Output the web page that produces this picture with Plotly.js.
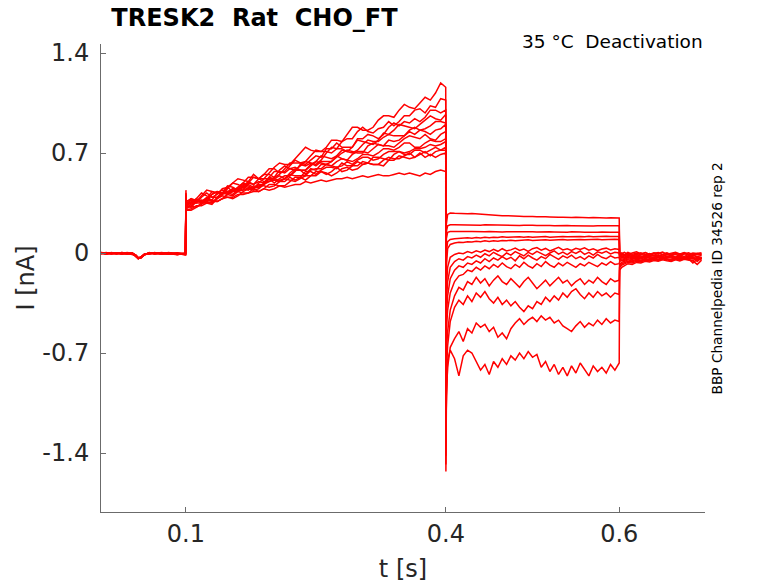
<!DOCTYPE html>
<html>
<head>
<meta charset="utf-8">
<script src="https://cdn.plot.ly/plotly-3.0.1.min.js"></script>
<style>html,body{margin:0;padding:0;background:#fff;}#chart{width:778px;height:583px;}</style>
</head>
<body>
<div id="chart"></div>
<script>
// ---- time grids (s) ----
const tPre = [0.002,0.008,0.014,0.02,0.026,0.032,0.038,0.042,0.045,0.048,0.052,0.058,0.064,0.072,0.08,0.09,0.0995];
const tAct = [0.1,0.1005,0.106,0.112,0.118,0.124,0.13,0.136,0.142,0.148,0.154,0.16,0.166,0.172,0.178,0.184,0.19,0.196,0.202,0.208,0.214,0.22,0.226,0.232,0.238,0.244,0.25,0.256,0.262,0.268,0.274,0.28,0.286,0.292,0.298,0.304,0.31,0.316,0.322,0.328,0.334,0.34,0.346,0.352,0.358,0.364,0.37,0.376,0.382,0.388,0.394,0.3998];
const tDeact = [0.4,0.4005,0.402,0.405,0.41,0.415,0.42,0.425,0.43,0.435,0.44,0.445,0.45,0.455,0.46,0.465,0.47,0.475,0.48,0.485,0.49,0.495,0.5,0.505,0.51,0.515,0.52,0.525,0.53,0.535,0.54,0.545,0.55,0.555,0.56,0.565,0.57,0.575,0.58,0.585,0.59,0.595,0.6];
const tPost = [0.6005,0.603,0.606,0.61,0.615,0.62,0.625,0.63,0.635,0.64,0.645,0.65,0.655,0.66,0.665,0.67,0.675,0.68,0.685,0.69,0.695];

// ---- currents (nA), one row per sweep ----
const preCurrents = [
 [0.0,-0.005,0.003,-0.004,0.002,-0.006,0.0,-0.018,-0.035,-0.03,-0.012,0.002,-0.004,0.003,-0.006,0.001,-0.008],
 [-0.005,0.002,-0.006,0.0,-0.008,0.001,-0.004,-0.022,-0.04,-0.028,-0.008,-0.006,0.002,-0.005,0.0,-0.01,-0.004],
 [0.003,-0.002,0.0,-0.007,0.004,-0.003,-0.008,-0.015,-0.032,-0.036,-0.014,0.0,-0.007,0.001,-0.004,-0.012,0.0],
 [-0.002,-0.008,0.002,-0.003,-0.006,0.003,-0.002,-0.02,-0.038,-0.03,-0.01,-0.004,0.003,-0.008,0.002,-0.005,-0.01],
 [0.001,-0.004,-0.007,0.002,-0.002,-0.008,0.002,-0.014,-0.034,-0.033,-0.012,0.003,-0.005,-0.002,-0.009,0.0,-0.006],
 [-0.004,0.001,-0.002,-0.006,0.003,-0.001,-0.006,-0.019,-0.04,-0.032,-0.009,-0.007,0.001,-0.003,-0.008,-0.002,-0.012],
 [0.002,-0.006,0.001,-0.002,-0.005,0.002,-0.003,-0.016,-0.033,-0.03,-0.013,0.001,-0.002,-0.006,0.003,-0.007,-0.002],
 [-0.003,0.003,-0.004,0.001,-0.007,-0.002,0.001,-0.021,-0.037,-0.029,-0.008,-0.005,-0.003,0.002,-0.005,-0.009,-0.005],
 [0.0,-0.003,-0.001,-0.005,0.001,-0.004,-0.005,-0.015,-0.035,-0.034,-0.011,-0.002,0.0,-0.004,-0.001,-0.006,-0.011],
 [-0.006,-0.001,0.002,-0.004,-0.003,0.0,-0.007,-0.02,-0.039,-0.03,-0.012,0.001,-0.006,0.0,-0.007,-0.003,-0.001],
 [0.002,-0.007,-0.003,0.0,-0.004,-0.005,0.0,-0.014,-0.034,-0.033,-0.009,-0.003,-0.001,-0.007,0.001,-0.008,-0.007],
 [-0.001,0.0,-0.005,-0.002,0.002,-0.007,-0.004,-0.018,-0.036,-0.031,-0.011,0.002,-0.005,-0.001,-0.003,-0.004,-0.013],
 [0.004,-0.002,0.001,-0.006,-0.001,0.001,-0.001,-0.015,-0.038,-0.028,-0.01,-0.001,0.001,-0.005,-0.002,-0.011,-0.003]
];
const actCurrents = [
 [0.44,0.36, 0.38,0.36,0.40,0.44,0.43,0.42,0.41,0.46, 0.49,0.52,0.51,0.50,0.55,0.52,0.52,0.56, 0.60,0.63,0.62,0.62,0.66,0.70,0.74,0.72, 0.71,0.71,0.74,0.79,0.79,0.78,0.83,0.88, 0.88,0.86,0.86,0.88,0.93,0.96,0.96,0.95,1.0, 1.04,1.02,1.01,1.05,1.09,1.07,1.12,1.19, 1.16],
 [0.42,0.35, 0.35,0.38,0.42,0.40,0.39,0.41,0.45,0.46, 0.43,0.46,0.49,0.53,0.53,0.52,0.55,0.59, 0.59,0.56,0.57,0.61,0.65,0.63,0.64,0.68, 0.72,0.71,0.71,0.70,0.73,0.78,0.80,0.80, 0.85,0.88,0.85,0.84,0.87,0.88,0.92,0.89,0.92, 0.96,0.96,1.0,1.01,0.98,1.03,1.02,1.08, 1.07],
 [0.41,0.34, 0.37,0.36,0.37,0.36,0.41,0.43,0.42,0.47, 0.46,0.44,0.47,0.50,0.48,0.52,0.55,0.55, 0.53,0.55,0.59,0.63,0.63,0.63,0.62,0.65, 0.68,0.67,0.73,0.73,0.77,0.74,0.74,0.74, 0.80,0.80,0.83,0.82,0.80,0.83,0.88,0.91,0.89, 0.92,0.91,0.94,0.92,0.95,1.0,1.0,0.98, 1.0],
 [0.40,0.35, 0.38,0.37,0.35,0.38,0.43,0.42,0.41,0.45, 0.49,0.48,0.46,0.49,0.53,0.52,0.50,0.50, 0.53,0.58,0.61,0.59,0.58,0.61,0.64,0.63, 0.62,0.65,0.70,0.74,0.73,0.73,0.71,0.74, 0.79,0.78,0.77,0.76,0.79,0.84,0.83,0.86,0.90, 0.89,0.88,0.87,0.90,0.93,0.96,0.94,0.93, 0.97],
 [0.40,0.33, 0.35,0.38,0.36,0.39,0.37,0.42,0.44,0.43, 0.45,0.44,0.44,0.49,0.48,0.50,0.49,0.53, 0.57,0.57,0.56,0.59,0.60,0.58,0.58,0.62, 0.64,0.68,0.67,0.66,0.68,0.72,0.71,0.70, 0.72,0.76,0.79,0.78,0.78,0.81,0.83,0.82,0.82, 0.82,0.86,0.88,0.86,0.87,0.89,0.92,0.92, 0.91],
 [0.39,0.34, 0.35,0.35,0.39,0.42,0.39,0.39,0.42,0.42, 0.45,0.45,0.48,0.48,0.46,0.46,0.49,0.53, 0.52,0.54,0.52,0.54,0.57,0.62,0.61,0.63, 0.61,0.64,0.64,0.64,0.67,0.70,0.72,0.71, 0.70,0.70,0.75,0.77,0.76,0.75,0.79,0.78,0.79, 0.82,0.85,0.83,0.86,0.85,0.83,0.86,0.87, 0.90],
 [0.38,0.33, 0.36,0.35,0.35,0.38,0.41,0.43,0.42,0.41, 0.40,0.43,0.47,0.46,0.45,0.49,0.52,0.52, 0.51,0.50,0.52,0.56,0.59,0.58,0.58,0.61, 0.64,0.63,0.62,0.64,0.68,0.66,0.65,0.69, 0.71,0.71,0.70,0.73,0.76,0.75,0.75,0.74,0.77, 0.80,0.82,0.81,0.80,0.83,0.80,0.79,0.83, 0.85],
 [0.38,0.32, 0.34,0.37,0.36,0.36,0.35,0.38,0.41,0.43, 0.43,0.46,0.49,0.47,0.45,0.48,0.48,0.52, 0.49,0.52,0.54,0.54,0.58,0.58,0.55,0.59, 0.58,0.62,0.62,0.61,0.64,0.66,0.65,0.64, 0.66,0.69,0.69,0.68,0.70,0.73,0.73,0.72,0.74, 0.77,0.77,0.74,0.74,0.77,0.79,0.78,0.78, 0.80],
 [0.39,0.33, 0.32,0.36,0.36,0.38,0.37,0.36,0.38,0.41, 0.44,0.43,0.45,0.44,0.47,0.46,0.48,0.52, 0.52,0.51,0.52,0.55,0.54,0.54,0.54,0.58, 0.59,0.59,0.62,0.61,0.60,0.61,0.64,0.62, 0.65,0.67,0.67,0.65,0.66,0.69,0.71,0.71,0.71, 0.70,0.71,0.73,0.73,0.74,0.76,0.75,0.76, 0.78],
 [0.37,0.32, 0.33,0.36,0.36,0.35,0.35,0.39,0.42,0.42, 0.41,0.44,0.46,0.45,0.44,0.45,0.48,0.50, 0.51,0.50,0.50,0.53,0.51,0.53,0.57,0.57, 0.55,0.58,0.60,0.60,0.59,0.63,0.61,0.61, 0.64,0.62,0.63,0.67,0.67,0.66,0.65,0.69,0.71, 0.69,0.69,0.72,0.72,0.70,0.72,0.74,0.72, 0.74],
 [0.36,0.31, 0.33,0.32,0.34,0.37,0.37,0.36,0.38,0.41, 0.43,0.43,0.42,0.42,0.45,0.47,0.47,0.46, 0.47,0.50,0.52,0.51,0.50,0.52,0.54,0.54, 0.57,0.57,0.55,0.57,0.60,0.57,0.58,0.61, 0.61,0.64,0.63,0.62,0.62,0.65,0.67,0.66,0.66, 0.68,0.70,0.67,0.69,0.71,0.68,0.71,0.72, 0.72],
 [0.36,0.30, 0.30,0.32,0.35,0.35,0.34,0.38,0.40,0.39, 0.38,0.40,0.43,0.45,0.45,0.43,0.45,0.48, 0.48,0.47,0.47,0.50,0.53,0.53,0.51,0.54, 0.54,0.57,0.56,0.54,0.56,0.59,0.60,0.58, 0.59,0.62,0.63,0.62,0.62,0.61,0.65,0.65,0.68, 0.67,0.66,0.67,0.70,0.67,0.69,0.67,0.69, 0.70],
 [0.35,0.30, 0.31,0.33,0.33,0.35,0.36,0.36,0.38,0.39, 0.39,0.41,0.41,0.42,0.43,0.43,0.45,0.44, 0.45,0.47,0.46,0.47,0.48,0.48,0.50,0.49, 0.50,0.51,0.50,0.51,0.52,0.52,0.53,0.52, 0.53,0.54,0.53,0.54,0.55,0.54,0.54,0.55,0.56, 0.55,0.56,0.55,0.54,0.56,0.55,0.57,0.58, 0.57]
];
const deactCurrents = [
 [-0.6,0.2,0.27,0.28,0.278,0.276,0.279,0.275,0.277,0.274,0.276,0.272,0.265,0.263,0.262,0.26,0.261,0.258,0.259,0.257,0.256,0.258,0.255,0.254,0.256,0.253,0.252,0.254,0.251,0.25,0.252,0.249,0.25,0.248,0.249,0.247,0.248,0.246,0.247,0.245,0.246,0.244,0.245],
 [-0.7,0.15,0.19,0.198,0.198,0.197,0.199,0.196,0.198,0.197,0.195,0.197,0.196,0.194,0.196,0.195,0.193,0.195,0.194,0.193,0.195,0.192,0.194,0.193,0.191,0.193,0.192,0.191,0.193,0.19,0.192,0.191,0.19,0.192,0.19,0.191,0.189,0.191,0.19,0.189,0.191,0.19,0.19],
 [-0.8,0.1,0.145,0.15,0.15,0.152,0.149,0.151,0.15,0.148,0.15,0.149,0.151,0.148,0.15,0.147,0.149,0.148,0.15,0.147,0.149,0.146,0.148,0.147,0.149,0.146,0.148,0.147,0.145,0.147,0.146,0.148,0.145,0.147,0.146,0.144,0.146,0.145,0.147,0.144,0.146,0.145,0.145],
 [-0.9,0.0,0.08,0.095,0.1,0.103,0.101,0.106,0.104,0.108,0.105,0.11,0.107,0.111,0.109,0.113,0.11,0.112,0.109,0.113,0.111,0.114,0.11,0.113,0.112,0.115,0.111,0.114,0.112,0.116,0.113,0.115,0.112,0.116,0.114,0.117,0.113,0.116,0.114,0.117,0.115,0.116,0.115],
 [-1.0,-0.1,0.03,0.06,0.07,0.075,0.073,0.079,0.077,0.082,0.079,0.085,0.081,0.086,0.083,0.088,0.085,0.09,0.086,0.089,0.087,0.092,0.088,0.091,0.089,0.093,0.09,0.092,0.089,0.094,0.091,0.093,0.09,0.095,0.092,0.094,0.091,0.096,0.093,0.095,0.092,0.096,0.095],
 [-1.1,-0.25,-0.1,-0.03,-0.01,0.0,-0.005,0.01,0.0,0.015,0.005,0.02,0.01,0.025,0.012,0.03,0.015,0.022,0.035,0.018,0.028,0.012,0.03,0.038,0.02,0.032,0.015,0.027,0.04,0.022,0.03,0.018,0.033,0.025,0.036,0.02,0.03,0.016,0.028,0.034,0.022,0.03,0.025],
 [-1.2,-0.35,-0.2,-0.1,-0.06,-0.04,-0.05,-0.025,-0.035,-0.015,-0.03,-0.005,-0.02,0.005,-0.012,-0.025,0.0,-0.015,0.01,-0.005,-0.02,0.005,-0.01,0.012,-0.004,-0.018,0.0,0.015,-0.008,0.006,-0.012,0.01,-0.003,0.014,-0.01,0.004,-0.015,0.008,-0.002,0.012,-0.006,0.005,0.0],
 [-1.25,-0.45,-0.3,-0.18,-0.12,-0.09,-0.1,-0.07,-0.08,-0.055,-0.07,-0.04,-0.06,-0.035,-0.05,-0.025,-0.045,-0.03,-0.055,-0.02,-0.04,-0.015,-0.035,-0.05,-0.025,-0.04,-0.01,-0.03,-0.045,-0.02,-0.035,-0.015,-0.04,-0.025,-0.045,-0.02,-0.035,-0.01,-0.03,-0.04,-0.02,-0.035,-0.03],
 [-1.3,-0.55,-0.4,-0.28,-0.2,-0.16,-0.15,-0.12,-0.13,-0.1,-0.12,-0.09,-0.11,-0.08,-0.1,-0.07,-0.095,-0.11,-0.08,-0.1,-0.065,-0.09,-0.105,-0.075,-0.095,-0.06,-0.085,-0.1,-0.07,-0.09,-0.065,-0.085,-0.1,-0.075,-0.09,-0.065,-0.08,-0.095,-0.07,-0.085,-0.06,-0.08,-0.075],
 [-1.35,-0.7,-0.55,-0.4,-0.3,-0.24,-0.26,-0.2,-0.22,-0.17,-0.21,-0.18,-0.23,-0.19,-0.16,-0.2,-0.22,-0.18,-0.21,-0.24,-0.2,-0.17,-0.21,-0.25,-0.22,-0.19,-0.23,-0.2,-0.17,-0.21,-0.19,-0.23,-0.2,-0.18,-0.22,-0.19,-0.21,-0.17,-0.2,-0.22,-0.18,-0.2,-0.19],
 [-1.42,-0.85,-0.65,-0.48,-0.38,-0.33,-0.36,-0.3,-0.34,-0.28,-0.31,-0.27,-0.32,-0.35,-0.31,-0.36,-0.33,-0.37,-0.34,-0.38,-0.41,-0.37,-0.39,-0.34,-0.36,-0.31,-0.34,-0.3,-0.33,-0.28,-0.31,-0.27,-0.25,-0.29,-0.32,-0.28,-0.31,-0.27,-0.3,-0.28,-0.31,-0.28,-0.29],
 [-1.48,-1.0,-0.8,-0.66,-0.6,-0.55,-0.62,-0.53,-0.56,-0.49,-0.52,-0.5,-0.55,-0.52,-0.59,-0.56,-0.6,-0.53,-0.49,-0.46,-0.5,-0.47,-0.45,-0.48,-0.44,-0.47,-0.45,-0.49,-0.47,-0.51,-0.53,-0.55,-0.51,-0.48,-0.52,-0.49,-0.51,-0.47,-0.5,-0.46,-0.49,-0.47,-0.48],
 [-1.53,-1.1,-0.75,-0.68,-0.74,-0.86,-0.72,-0.68,-0.7,-0.76,-0.82,-0.78,-0.85,-0.76,-0.8,-0.74,-0.78,-0.72,-0.75,-0.7,-0.74,-0.69,-0.73,-0.71,-0.8,-0.76,-0.83,-0.78,-0.85,-0.8,-0.86,-0.79,-0.84,-0.77,-0.82,-0.86,-0.79,-0.83,-0.8,-0.84,-0.78,-0.82,-0.77]
];
const postCurrents = [
 [0.0,-0.005,0.005,-0.01,0.0,0.008,-0.006,0.004,-0.01,0.002,-0.004,0.006,-0.008,0.0,0.005,-0.006,0.003,-0.01,0.0,-0.004,0.002],
 [-0.01,0.0,-0.015,0.005,-0.008,-0.002,-0.014,0.003,-0.01,-0.004,0.004,-0.012,-0.002,-0.008,0.002,-0.013,-0.005,0.001,-0.01,-0.003,-0.006],
 [-0.015,-0.005,-0.012,0.0,-0.018,-0.006,0.002,-0.012,-0.004,-0.016,-0.002,-0.01,0.001,-0.014,-0.006,-0.011,0.0,-0.009,-0.015,-0.004,-0.01],
 [-0.02,-0.01,-0.022,-0.008,-0.016,-0.025,-0.01,-0.018,-0.005,-0.02,-0.012,-0.024,-0.008,-0.017,-0.011,-0.022,-0.006,-0.015,-0.02,-0.01,-0.014],
 [-0.025,-0.018,-0.03,-0.015,-0.024,-0.01,-0.022,-0.028,-0.014,-0.02,-0.026,-0.012,-0.022,-0.017,-0.03,-0.015,-0.024,-0.011,-0.02,-0.026,-0.018],
 [-0.03,-0.02,-0.035,-0.018,-0.028,-0.022,-0.033,-0.015,-0.026,-0.031,-0.019,-0.027,-0.035,-0.02,-0.029,-0.024,-0.034,-0.02,-0.028,-0.05,-0.03],
 [-0.04,-0.03,-0.038,-0.025,-0.034,-0.02,-0.03,-0.036,-0.024,-0.032,-0.018,-0.028,-0.035,-0.022,-0.031,-0.026,-0.036,-0.024,-0.03,-0.06,-0.035],
 [-0.05,-0.04,-0.045,-0.032,-0.04,-0.028,-0.035,-0.025,-0.033,-0.04,-0.027,-0.034,-0.021,-0.03,-0.037,-0.025,-0.032,-0.028,-0.036,-0.045,-0.03],
 [-0.06,-0.05,-0.052,-0.04,-0.046,-0.035,-0.042,-0.03,-0.038,-0.044,-0.032,-0.04,-0.028,-0.036,-0.041,-0.03,-0.038,-0.026,-0.035,-0.04,-0.033],
 [-0.08,-0.065,-0.06,-0.048,-0.055,-0.042,-0.05,-0.038,-0.046,-0.035,-0.043,-0.03,-0.04,-0.045,-0.033,-0.04,-0.028,-0.037,-0.042,-0.03,-0.036],
 [-0.09,-0.075,-0.07,-0.058,-0.062,-0.05,-0.056,-0.044,-0.05,-0.04,-0.047,-0.035,-0.043,-0.05,-0.038,-0.045,-0.033,-0.04,-0.07,-0.045,-0.04],
 [-0.1,-0.085,-0.078,-0.066,-0.07,-0.058,-0.062,-0.05,-0.056,-0.045,-0.052,-0.04,-0.048,-0.055,-0.042,-0.05,-0.038,-0.046,-0.052,-0.04,-0.045],
 [-0.12,-0.1,-0.09,-0.075,-0.08,-0.066,-0.07,-0.058,-0.063,-0.052,-0.058,-0.047,-0.054,-0.06,-0.048,-0.055,-0.044,-0.05,-0.056,-0.08,-0.05]
];

// ---- ticks and labels ----
const xTickVals = [0.1, 0.4, 0.6];
const xTickText = ['0.1', '0.4', '0.6'];
const yTickVals = [-1.4, -0.7, 0, 0.7, 1.4];
const yTickText = ['-1.4', '-0.7', '0', '0.7', '1.4'];
const chartTitle = 'TRESK2\u00a0\u00a0Rat\u00a0\u00a0CHO_FT';
const conditionText = '35 \u00b0C\u00a0\u00a0Deactivation';
const sourceText = 'BBP Channelpedia ID 34526 rep 2';

const xAll = tPre.concat(tAct, tDeact, tPost);
const traces = preCurrents.map(function (pre, k) {
  const y = pre.concat(actCurrents[k], deactCurrents[k], postCurrents[k]);
  if (y.length !== xAll.length) console.warn('length mismatch sweep ' + k, y.length, xAll.length);
  return {
    type: 'scatter', mode: 'lines', x: xAll, y: y,
    line: {color: '#ff0000', width: 1.5}, hoverinfo: 'skip', showlegend: false
  };
});

const axisCommon = {
  showgrid: false, zeroline: false, showline: true, linecolor: '#6b6b6b', linewidth: 1,
  ticks: 'inside', ticklen: 5, tickwidth: 1, tickcolor: '#6b6b6b',
  tickfont: {family: 'DejaVu Sans', size: 24, color: '#262626'},
  automargin: false, fixedrange: true
};

const layout = {
  width: 778, height: 583,
  margin: {l: 101, r: 73, t: 44, b: 71, pad: 0},
  paper_bgcolor: '#ffffff', plot_bgcolor: '#ffffff',
  showlegend: false,
  font: {family: 'DejaVu Sans', color: '#262626'},
  title: {
    text: '<b>' + chartTitle + '</b>',
    font: {family: 'DejaVu Sans', size: 24, color: '#000000'},
    xref: 'container', x: 254.5 / 778, xanchor: 'center',
    yref: 'container', y: 1 - 18 / 583, yanchor: 'middle'
  },
  xaxis: Object.assign({}, axisCommon, {
    range: [0.002, 0.699], tickmode: 'array', tickvals: xTickVals, ticktext: xTickText,
    ticklabelstandoff: 0,
    title: {text: 't [s]', font: {family: 'DejaVu Sans', size: 24, color: '#262626'}, standoff: 17}
  }),
  yaxis: Object.assign({}, axisCommon, {
    range: [-1.813, 1.463], tickmode: 'array', tickvals: yTickVals, ticktext: yTickText,
    ticklabelstandoff: 6,
    title: {text: 'I [nA]', font: {family: 'DejaVu Sans', size: 24, color: '#262626'}, standoff: 0}
  }),
  annotations: [
    {text: conditionText, xref: 'paper', yref: 'paper', x: 1.0, y: (512 - 41) / 468,
     xanchor: 'right', yanchor: 'middle', showarrow: false,
     font: {family: 'DejaVu Sans', size: 18.5, color: '#000000'}},
    {text: sourceText, xref: 'paper', yref: 'paper', x: (716 - 101) / 604, y: (512 - 278.5) / 468,
     xanchor: 'center', yanchor: 'middle', textangle: -90, showarrow: false,
     font: {family: 'DejaVu Sans', size: 13.7, color: '#000000'}}
  ]
};

Plotly.newPlot('chart', traces, layout, {displayModeBar: false, staticPlot: true});
</script>
</body>
</html>
